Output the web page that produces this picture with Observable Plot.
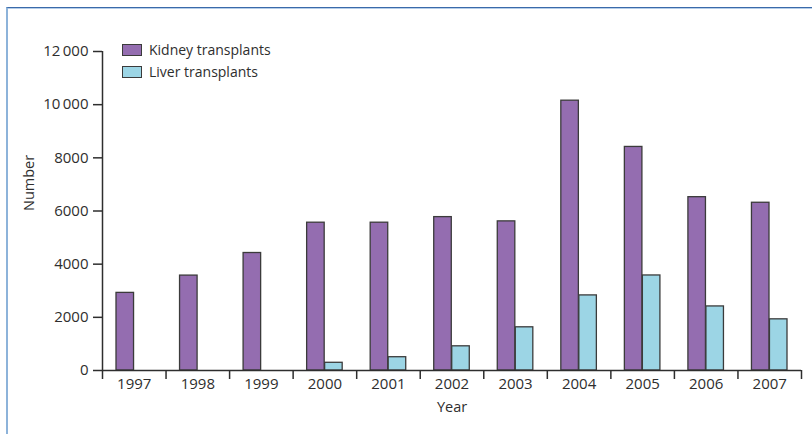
<!DOCTYPE html>
<html>
<head>
<meta charset="utf-8">
<script src="https://cdn.jsdelivr.net/npm/d3@7"></script>
<script src="https://cdn.jsdelivr.net/npm/@observablehq/plot@0.6"></script>
<style>
  html, body { margin: 0; padding: 0; background: #fff; }
  #wrap { position: relative; width: 812px; height: 434px; overflow: hidden; font-family: "Open Sans", sans-serif; color: #333; }
  #frame { position: absolute; left: 6px; top: 7px; right: -4px; bottom: -4px;
           border-top: 1px solid #3a6aaa; border-left: 2px solid #8db3da;
           box-shadow: inset 0 1px 0 #b5cde8; pointer-events: none; }
  #chart { position: absolute; left: 0; top: 0; }
  .legend { position: absolute; left: 122px; font-size: 14px; line-height: 1; color: #2e2e2e; }
  .legend .row { display: flex; align-items: center; height: 22px; }
  .legend .sw { width: 18px; height: 10px; border: 1px solid #3b3b3b; margin-right: 7px; }
</style>
</head>
<body>
<div id="wrap">
  <div id="chart"></div>
  <div id="frame"></div>
  <div class="legend" id="legend" style="top:39px"></div>
</div>
<script>
const years = [1997, 1998, 1999, 2000, 2001, 2002, 2003, 2004, 2005, 2006, 2007];
const kidneyValues = [2920, 3570, 4420, 5560, 5560, 5770, 5610, 10150, 8410, 6520, 6310];
const liverValues = [null, null, null, 290, 500, 910, 1625, 2825, 3575, 2410, 1925];
const seriesNames = ["Kidney transplants", "Liver transplants"];
const seriesColors = ["#946db0", "#9cd5e5"];
const yTicks = [0, 2000, 4000, 6000, 8000, 10000, 12000];
const yTickLabels = ["0", "2000", "4000", "6000", "8000", "10\u2009000", "12\u2009000"];
const xLabel = "Year";
const yLabel = "Number";

const kidney = years.map((year, i) => ({year, value: kidneyValues[i]}));
const liver = years.map((year, i) => ({year, value: liverValues[i]})).filter(d => d.value != null);
const boundaries = years.map(y => y - 0.5).concat([years[years.length - 1] + 0.5]);

const ink = "#2e2e2e";
const barStroke = "#3b3b3b";

const chart = Plot.plot({
  width: 812,
  height: 434,
  marginLeft: 102,
  marginRight: 11,
  marginTop: 51,
  marginBottom: 64,
  x: {type: "linear", domain: [boundaries[0], boundaries[boundaries.length - 1]]},
  y: {domain: [0, 12000]},
  style: {fontFamily: "Open Sans, sans-serif", fontSize: "15px", color: ink, background: "transparent"},
  marks: [
    Plot.rectY(kidney, {x1: d => d.year - 0.5, x2: d => d.year + 0.5, y: "value",
      fill: seriesColors[0], stroke: barStroke, strokeWidth: 1.3, insetLeft: 14, insetRight: 32}),
    Plot.rectY(liver, {x1: d => d.year - 0.5, x2: d => d.year + 0.5, y: "value",
      fill: seriesColors[1], stroke: barStroke, strokeWidth: 1.3, insetLeft: 32, insetRight: 14}),
    Plot.ruleY([0], {stroke: ink, strokeWidth: 1.5}),
    Plot.ruleX([boundaries[0]], {y1: 0, y2: 12000, stroke: ink, strokeWidth: 1.5}),
    Plot.axisY({ticks: yTicks, tickSize: 9, tickPadding: 5, tickFormat: (d) => yTickLabels[yTicks.indexOf(d)],
      label: null, stroke: ink, strokeWidth: 1.5, fontSize: 15}),
    Plot.axisX({ticks: years, tickSize: 0, tickPadding: 8, tickFormat: d => String(d), label: null, fontSize: 15}),
    Plot.axisX({ticks: boundaries, tickSize: 9, tickFormat: () => "", label: null, stroke: ink, strokeWidth: 1.5}),
    Plot.text([xLabel], {frameAnchor: "bottom", dy: 41, fontSize: 14.5, fill: ink}),
    Plot.text([yLabel], {frameAnchor: "left", dx: -73, rotate: -90, fontSize: 14.5, fill: ink})
  ]
});
document.getElementById("chart").appendChild(chart);

const legend = document.getElementById("legend");
seriesNames.forEach((name, i) => {
  const row = document.createElement("div");
  row.className = "row";
  const sw = document.createElement("span");
  sw.className = "sw";
  sw.style.background = seriesColors[i];
  const label = document.createElement("span");
  label.textContent = name;
  row.appendChild(sw);
  row.appendChild(label);
  legend.appendChild(row);
});
</script>
</body>
</html>
